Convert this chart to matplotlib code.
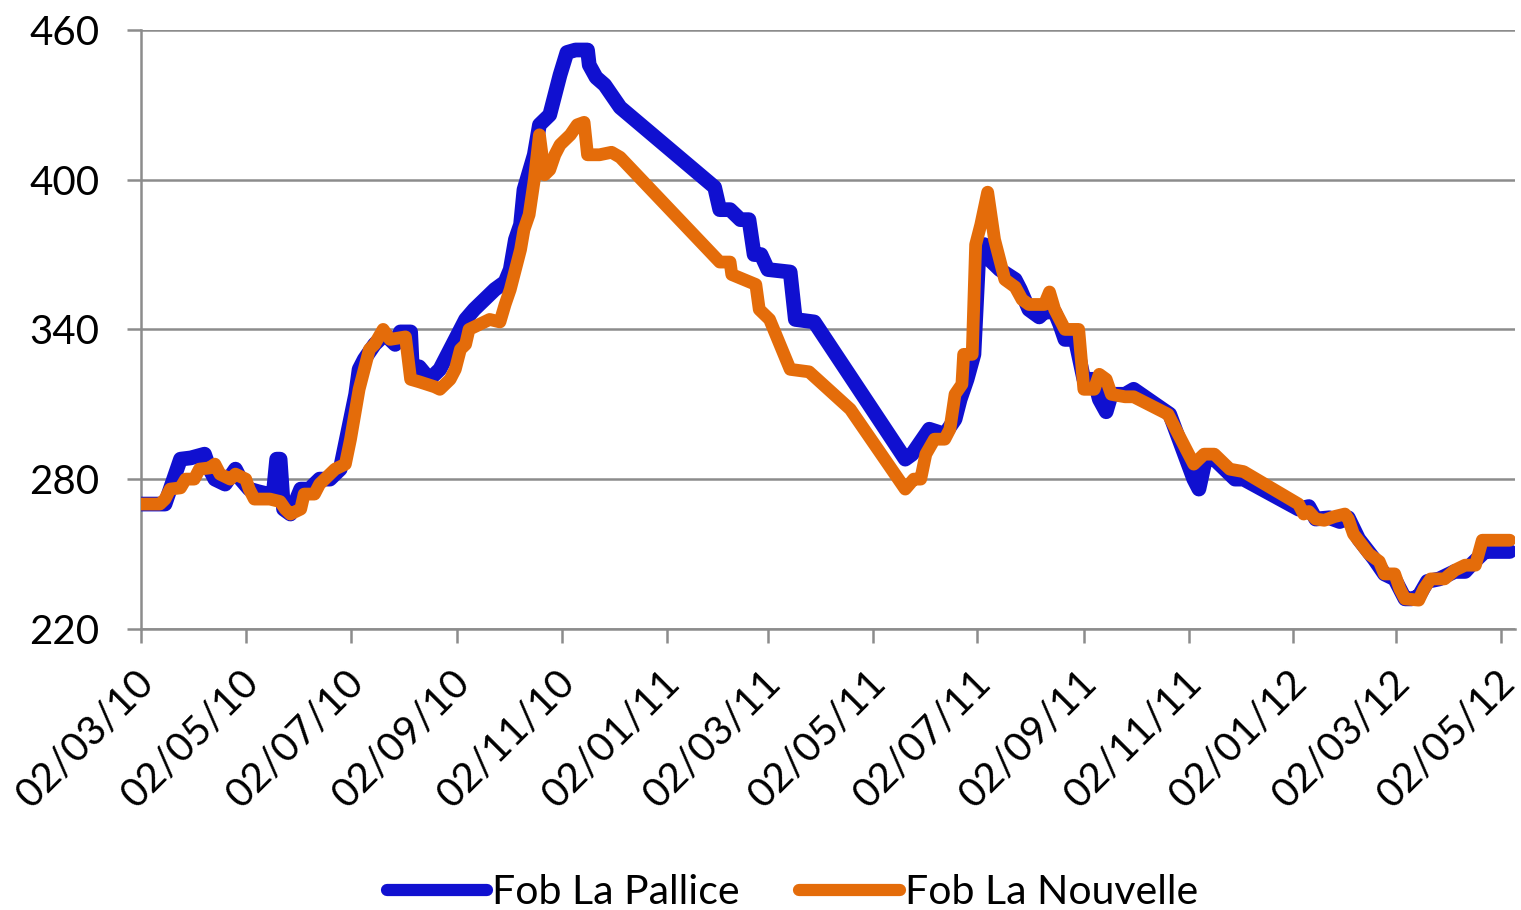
import matplotlib.pyplot as plt
import matplotlib.dates as mdates
import matplotlib.transforms as mtransforms
import pandas as pd

# Fob La Pallice (EUR/t)
pallice_dates = [
    '2010-03-02', '2010-03-16', '2010-03-19', '2010-03-25', '2010-03-31', '2010-04-08',
    '2010-04-11', '2010-04-14', '2010-04-20', '2010-04-26', '2010-04-29', '2010-05-04',
    '2010-05-09', '2010-05-15', '2010-05-18', '2010-05-20', '2010-05-22', '2010-05-24',
    '2010-05-28', '2010-06-03', '2010-06-08', '2010-06-14', '2010-06-20', '2010-06-26',
    '2010-07-02', '2010-07-05', '2010-07-07', '2010-07-10', '2010-07-16', '2010-07-22',
    '2010-07-28', '2010-07-31', '2010-08-06', '2010-08-07', '2010-08-11', '2010-08-17',
    '2010-08-23', '2010-08-26', '2010-09-01', '2010-09-07', '2010-09-12', '2010-09-18',
    '2010-09-24', '2010-09-30', '2010-10-03', '2010-10-06', '2010-10-09', '2010-10-11',
    '2010-10-17', '2010-10-20', '2010-10-26', '2010-10-29', '2010-11-01', '2010-11-05',
    '2010-11-10', '2010-11-17', '2010-11-18', '2010-11-22', '2010-11-27', '2010-12-03',
    '2010-12-06', '2011-01-30', '2011-02-02', '2011-02-08', '2011-02-14', '2011-02-19',
    '2011-02-22', '2011-02-26', '2011-03-02', '2011-03-15', '2011-03-18', '2011-03-29',
    '2011-05-21', '2011-05-25', '2011-05-29', '2011-06-04', '2011-06-13', '2011-06-19',
    '2011-06-22', '2011-06-26', '2011-06-30', '2011-07-03', '2011-07-06', '2011-07-09',
    '2011-07-15', '2011-07-24', '2011-07-27', '2011-08-01', '2011-08-07', '2011-08-10',
    '2011-08-16', '2011-08-19', '2011-08-22', '2011-08-28', '2011-09-02', '2011-09-08',
    '2011-09-11', '2011-09-15', '2011-09-18', '2011-09-26', '2011-10-01', '2011-10-22',
    '2011-11-05', '2011-11-08', '2011-11-12', '2011-11-17', '2011-11-23', '2011-11-29',
    '2011-12-04', '2012-01-05', '2012-01-11', '2012-01-15', '2012-01-23', '2012-01-29',
    '2012-02-03', '2012-02-09', '2012-02-18', '2012-02-24', '2012-03-01', '2012-03-04',
    '2012-03-07', '2012-03-11', '2012-03-15', '2012-03-20', '2012-03-27', '2012-04-05',
    '2012-04-11', '2012-04-15', '2012-04-21', '2012-04-22', '2012-05-07',
]
pallice = [
    270, 270, 276, 288, 288.5, 290,
    284, 280, 278, 284, 280, 276,
    275, 274, 274, 288, 288, 268,
    266, 276, 276, 280, 280, 284,
    304, 314, 324, 328, 334, 338,
    334, 339, 339, 324, 325, 320,
    324, 328, 336, 344, 348, 352,
    356, 359, 364, 376, 382, 396,
    410, 422, 426, 434, 442, 451,
    452, 452, 446, 441, 438, 432,
    429, 397, 388, 388, 384, 384,
    370, 370, 364, 363, 344, 343,
    288, 290, 294, 300, 298, 304,
    312, 320, 330, 372, 374, 368,
    364, 360, 356, 348, 345, 347,
    347, 342, 336, 336, 320, 320,
    312, 307, 314, 314, 316, 306,
    280, 276, 288.5, 288, 284, 280,
    280, 268, 269, 264, 264.5, 263,
    264.5, 256, 248, 242, 240, 236,
    232, 232, 233, 239, 240, 243,
    243, 246, 250, 251, 251,
]

# Fob La Nouvelle (EUR/t)
nouvelle_dates = [
    '2010-03-02', '2010-03-13', '2010-03-16', '2010-03-19', '2010-03-25', '2010-03-28',
    '2010-04-02', '2010-04-05', '2010-04-11', '2010-04-14', '2010-04-17', '2010-04-23',
    '2010-04-26', '2010-05-02', '2010-05-04', '2010-05-07', '2010-05-16', '2010-05-22',
    '2010-05-25', '2010-05-28', '2010-06-03', '2010-06-05', '2010-06-11', '2010-06-14',
    '2010-06-23', '2010-06-29', '2010-07-02', '2010-07-05', '2010-07-07', '2010-07-10',
    '2010-07-13', '2010-07-16', '2010-07-21', '2010-07-25', '2010-08-03', '2010-08-06',
    '2010-08-11', '2010-08-20', '2010-08-23', '2010-08-29', '2010-09-01', '2010-09-04',
    '2010-09-07', '2010-09-09', '2010-09-15', '2010-09-21', '2010-09-27', '2010-09-30',
    '2010-10-03', '2010-10-06', '2010-10-09', '2010-10-11', '2010-10-14', '2010-10-17',
    '2010-10-20', '2010-10-23', '2010-10-26', '2010-10-29', '2010-11-01', '2010-11-04',
    '2010-11-07', '2010-11-11', '2010-11-15', '2010-11-17', '2010-11-24', '2010-12-01',
    '2010-12-06', '2011-02-02', '2011-02-08', '2011-02-09', '2011-02-16', '2011-02-23',
    '2011-02-25', '2011-03-03', '2011-03-09', '2011-03-15', '2011-03-26', '2011-04-19',
    '2011-05-21', '2011-05-26', '2011-05-30', '2011-06-02', '2011-06-07', '2011-06-13',
    '2011-06-16', '2011-06-19', '2011-06-23', '2011-06-24', '2011-06-29', '2011-07-01',
    '2011-07-04', '2011-07-08', '2011-07-12', '2011-07-18', '2011-07-24', '2011-07-28',
    '2011-08-01', '2011-08-10', '2011-08-13', '2011-08-16', '2011-08-22', '2011-08-30',
    '2011-09-02', '2011-09-08', '2011-09-11', '2011-09-15', '2011-09-18', '2011-09-26',
    '2011-10-01', '2011-10-21', '2011-11-05', '2011-11-11', '2011-11-17', '2011-11-23',
    '2011-11-26', '2011-12-04', '2012-01-05', '2012-01-08', '2012-01-11', '2012-01-15',
    '2012-01-20', '2012-01-26', '2012-02-01', '2012-02-03', '2012-02-06', '2012-02-15',
    '2012-02-21', '2012-02-24', '2012-03-01', '2012-03-04', '2012-03-07', '2012-03-15',
    '2012-03-18', '2012-03-22', '2012-03-30', '2012-04-05', '2012-04-11', '2012-04-17',
    '2012-04-21', '2012-05-07',
]
nouvelle = [
    270, 270, 272, 276, 276.5, 280,
    280, 284, 284.5, 286, 282, 280,
    282, 280, 276, 272, 272, 271,
    268, 266, 268, 274, 274, 278,
    284, 286, 296, 308, 316, 324,
    332, 334, 340, 336, 337, 320,
    319, 317, 316, 320, 324, 332,
    334, 340, 342, 344, 343, 350,
    356, 364, 372, 380, 386, 400,
    418, 402, 404, 410, 414, 416,
    418, 422, 423, 410, 410, 411,
    409, 367, 367, 362, 360, 358,
    348, 344, 334, 324, 323, 308,
    276, 280, 280, 290, 296, 296,
    300, 314, 318, 330, 330, 374,
    382, 395, 376, 360, 357, 352,
    350, 350, 355, 348, 340, 340,
    316, 316, 322, 320, 314, 313,
    313, 306, 286, 290, 290, 286,
    284, 283, 270, 266, 267, 264,
    263.5, 265, 266, 264, 258, 250,
    247, 242, 242, 236, 232, 231.5,
    236, 240, 240, 243.5, 245.5, 245.5,
    255.5, 255.5,
]

y_ticks = [220, 280, 340, 400, 460]

plt.rcParams['font.family'] = ['Lato', 'DejaVu Sans']

fig = plt.figure(figsize=(15.21, 9.10), dpi=100)
ax = fig.add_axes([0.0927, 0.309, 0.9033, 0.658])

ax.plot(pd.to_datetime(pallice_dates), pallice, color='#1010D0', linewidth=10.6,
        solid_joinstyle='round', solid_capstyle='round', label='Fob La Pallice', zorder=3)
ax.plot(pd.to_datetime(nouvelle_dates), nouvelle, color='#E46C0A', linewidth=9.2,
        solid_joinstyle='round', solid_capstyle='round', label='Fob La Nouvelle', zorder=4)

ax.set_ylim(220, 460)
ax.set_yticks(y_ticks)
ax.set_xlim(pd.Timestamp('2010-03-02'), pd.Timestamp('2012-05-10'))
ax.xaxis.set_major_locator(mdates.MonthLocator(bymonth=[1, 3, 5, 7, 9, 11], bymonthday=2))
ax.xaxis.set_major_formatter(mdates.DateFormatter('%d/%m/%y'))

ax.grid(axis='y', color='#8c8c8c', linewidth=1.8)
ax.set_axisbelow(True)
for side in ['top', 'right']:
    ax.spines[side].set_visible(False)
for side in ['left', 'bottom']:
    ax.spines[side].set_color('#8c8c8c')
    ax.spines[side].set_linewidth(1.8)

ax.tick_params(axis='both', colors='#8c8c8c', length=10, width=1.8, labelcolor='black',
               labelsize=29)
ax.tick_params(axis='y', pad=20)
ax.tick_params(axis='x', pad=15)
shift = mtransforms.ScaledTranslation(-4 / 72, 0, fig.dpi_scale_trans)
for lbl in ax.get_xticklabels():
    lbl.set_rotation(45)
    lbl.set_ha('right')
    lbl.set_rotation_mode('anchor')
    lbl.set_transform(lbl.get_transform() + shift)

leg = fig.legend(loc='center', bbox_to_anchor=(0.521, 0.019), ncol=2, frameon=False,
                 fontsize=29.5, handlelength=2.45, handletextpad=0.12, columnspacing=1.45)
for line in leg.get_lines():
    line.set_linewidth(8.8)
    line.set_solid_capstyle('round')

fig.savefig('out.png', dpi=100)
